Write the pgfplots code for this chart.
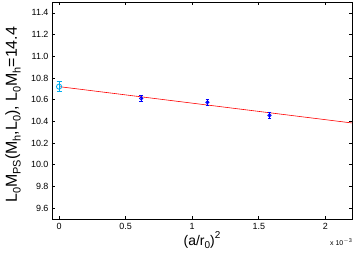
\documentclass[border=0pt]{standalone}
\usepackage{pgfplots}
\pgfplotsset{compat=1.18}
\usepackage{fontspec}
\setmainfont{Liberation Sans}
\newcommand\sub[1]{\raisebox{-0.45ex}{\fontsize{11}{11}\selectfont #1}}
\newcommand\subx[1]{\raisebox{-0.45ex}{\fontsize{10}{10}\selectfont #1}}
\newcommand\sups[1]{\raisebox{0.9ex}{\fontsize{10}{10}\selectfont #1}}
\begin{document}
\begin{tikzpicture}
\begin{axis}[
  scale only axis,
  width=300bp, height=217bp,
  xmin=-0.053, xmax=2.2,
  ymin=9.5, ymax=11.5,
  xtick={0,0.5,1,1.5,2},
  xticklabels={0,0.5,1,1.5,2},
  ytick={9.6,9.8,10.0,10.2,10.4,10.6,10.8,11.0,11.2,11.4},
  y tick label style={/pgf/number format/.cd,fixed,fixed zerofill,precision=1},
  /pgf/number format/assume math mode=true,
  tick label style={font=\fontsize{9}{10}\selectfont},
  x tick label style={yshift=-1bp},
  tick align=inside,
  major tick length=3.5bp,
  axis line style={line width=0.8pt},
  every tick/.style={black, line width=0.6pt},
  xlabel={(a/r\subx{0})\sups{2}},
  ylabel={L\sub{0}M\sub{PS}(M\sub{h},L\sub{0}), L\sub{0}M\sub{h}=14.4},
  xlabel style={font=\fontsize{14}{15}\selectfont, at={(axis description cs:0.5,0)}, anchor=base, yshift=-26bp},
  ylabel style={font=\fontsize{16}{17}\selectfont, at={(axis description cs:-0.117,0.48)}, anchor=base},
  clip=false,
]
\addplot[red, line width=0.6pt] coordinates {(0,10.72) (2.2,10.385)};
\addplot[blue, only marks, mark=o, mark size=1.6pt, line width=0.9pt,
  error bars/.cd, y dir=both, y explicit, error bar style={line width=0.8pt}, error mark options={rotate=90, mark size=1.8pt, line width=0.8pt}]
  coordinates {
  (0.617,10.612) +- (0,0.025)
  (1.114,10.575) +- (0,0.025)
  (1.58,10.455) +- (0,0.03)
  };
\addplot[cyan, only marks, mark=o, mark size=2.6pt, line width=0.8pt,
  error bars/.cd, y dir=both, y explicit, error bar style={line width=0.8pt}, error mark options={rotate=90, mark size=2.5pt, line width=0.8pt}]
  coordinates {(0,10.72) +- (0,0.045)};
\node[anchor=base east, font=\fontsize{7}{8}\selectfont, yshift=-26bp, inner sep=0pt] at (rel axis cs:1.0,0) {x 10\raisebox{0.8ex}{\fontsize{5.5}{6}\selectfont $-$3}};
\path (rel axis cs:0,0) ++(-52bp,-43bp) coordinate (bbA);
\path (rel axis cs:1,1) ++(2bp,2bp) coordinate (bbB);
\end{axis}
\useasboundingbox (bbA) rectangle (bbB);
\end{tikzpicture}
\end{document}
